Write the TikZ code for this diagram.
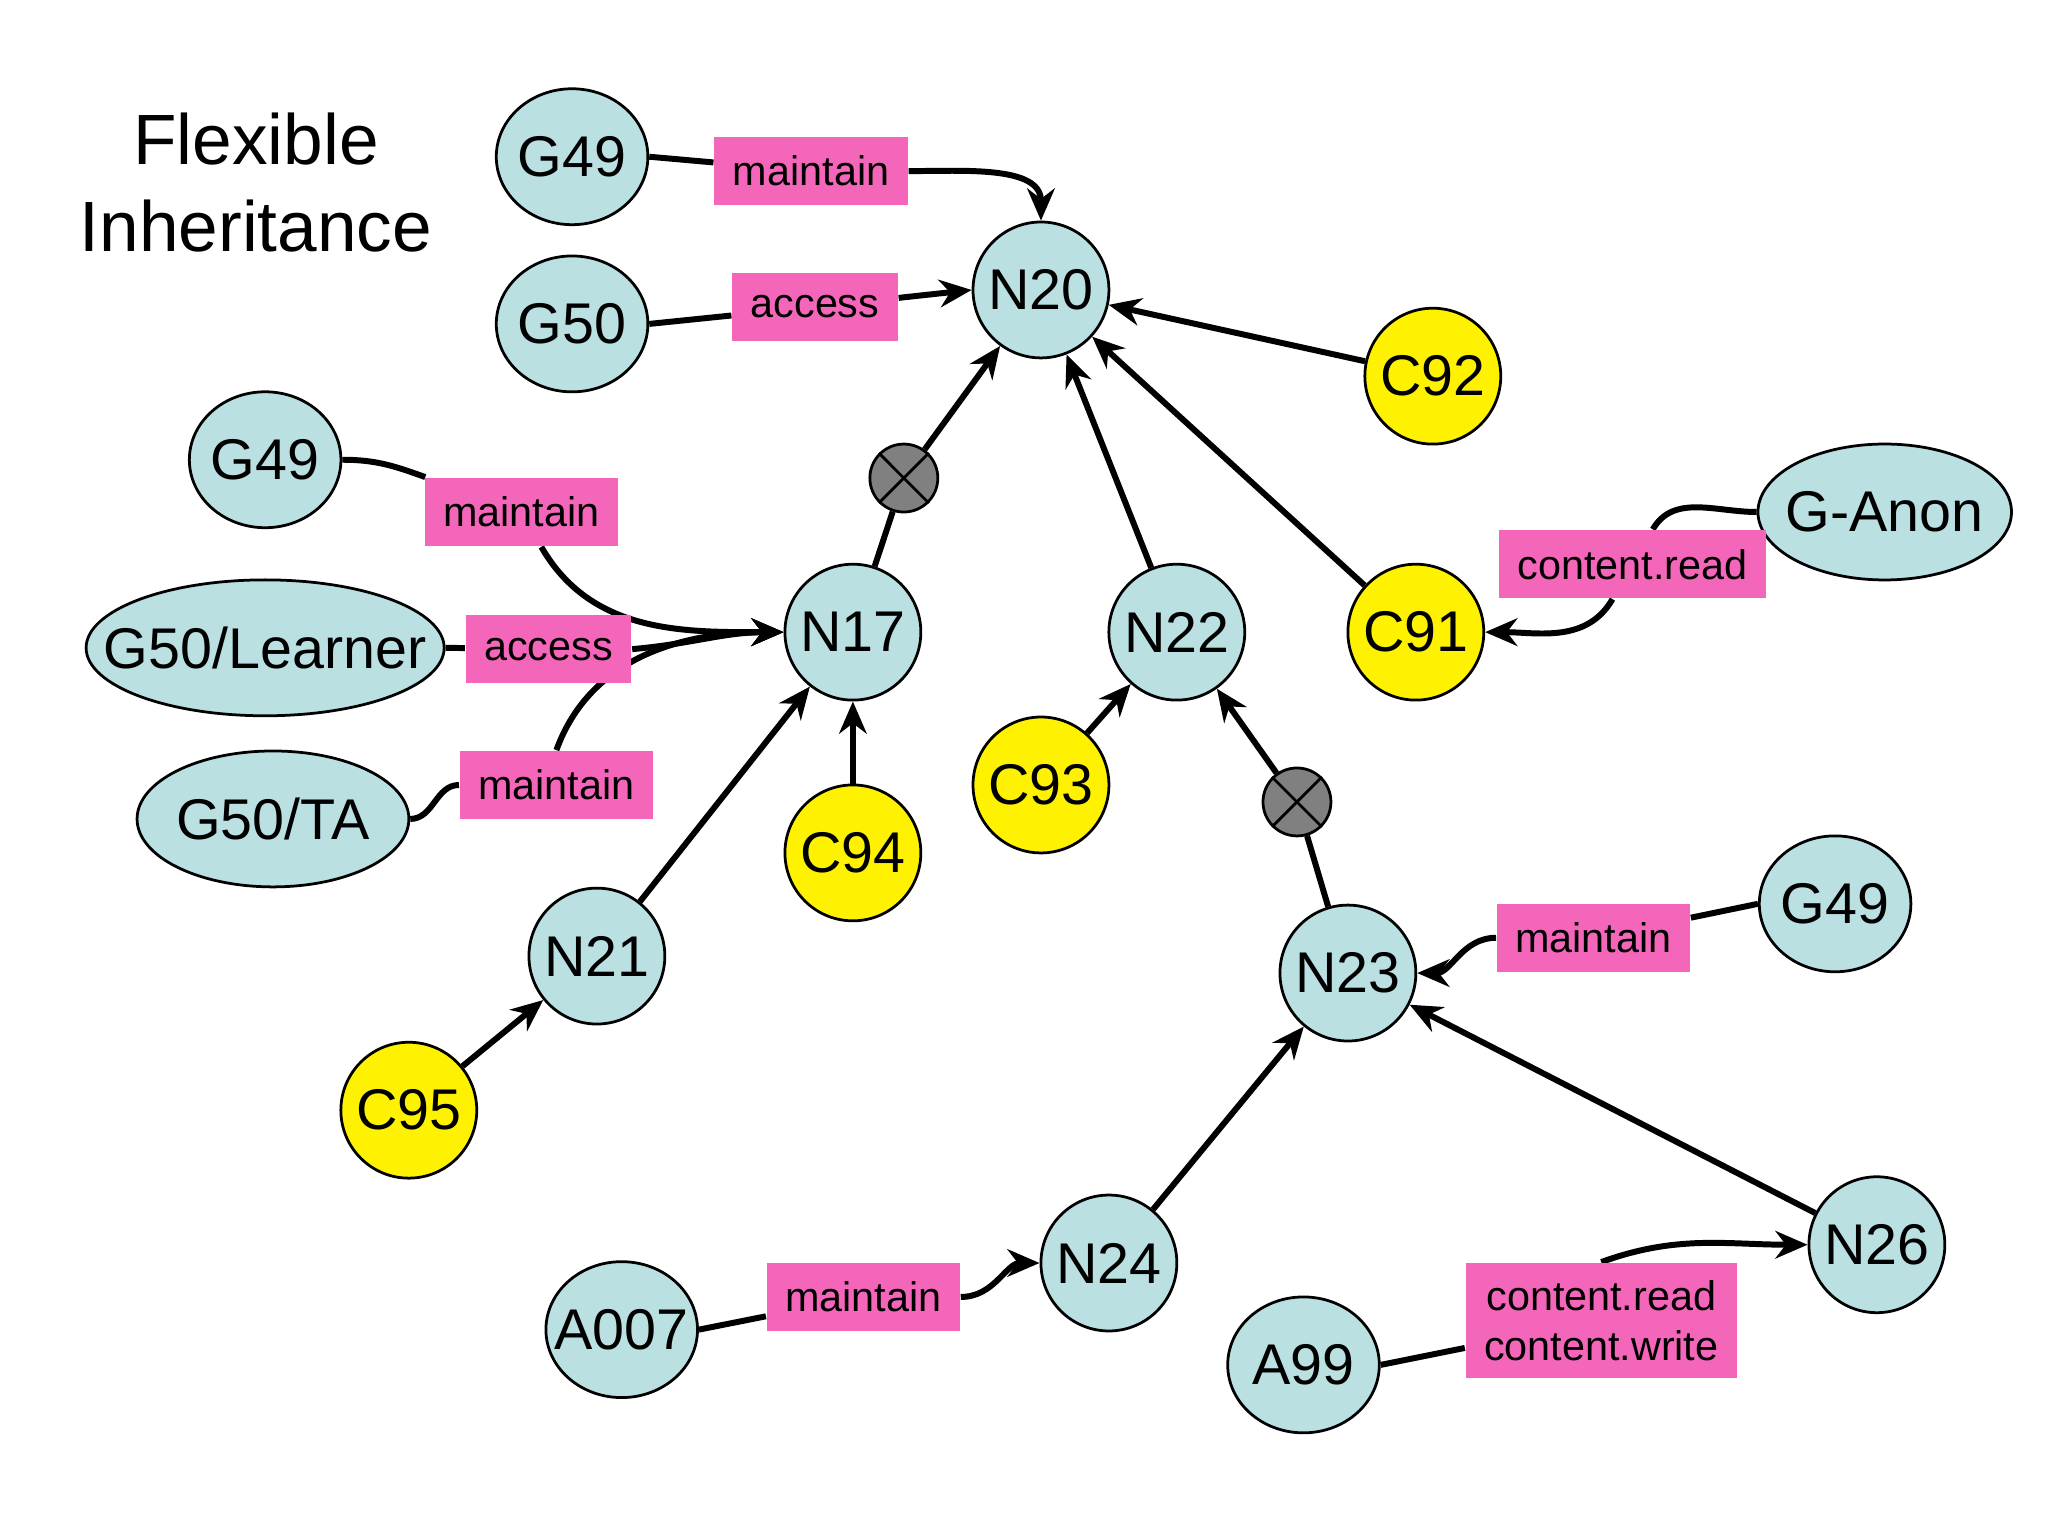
\documentclass[tikz,border=0pt]{standalone}
\usepackage{fontspec}
\setmainfont{Liberation Sans}
\usetikzlibrary{arrows.meta,backgrounds,shapes.geometric}
\definecolor{nodeblue}{RGB}{186,224,226}
\begin{document}
\begin{tikzpicture}[x=0.01cm,y=-0.01cm,
  nd/.style={draw=black,line width=0.6pt,fill=nodeblue,font=\fontsize{12.5}{15}\selectfont,inner sep=0pt},
  cir/.style={nd,circle,minimum size=1.04cm},
  ell/.style={nd,ellipse,minimum height=1.04cm,inner xsep=-9pt,inner ysep=-3pt},
  yc/.style={cir,fill=yellow},
  lb/.style={fill=magenta!60,font=\fontsize{9}{11}\selectfont,minimum height=0.52cm,inner xsep=4pt,align=center},
  xc/.style={circle,draw=black,fill=gray,minimum size=0.52cm,inner sep=0pt,line width=0.6pt},
  ed/.style={line width=1.3pt},
  ar/.style={ed,-{Stealth[length=7pt,width=6pt]}}]
\useasboundingbox (0,0) rectangle (1568,1176);
\node[align=center,font=\fontsize{15.5}{19}\selectfont] (title) at (196,140) {Flexible\\Inheritance};
\node[ell,minimum width=1.16cm] (G49a) at (438,120) {G49};
\node[ell,minimum width=1.16cm] (G50a) at (438,248) {G50};
\node[cir] (N20) at (797,222) {N20};
\node[yc] (C92) at (1097,288) {C92};
\node[ell,minimum width=1.16cm] (G49b) at (203,352) {G49};
\node[ell,minimum width=1.94cm] (GAnon) at (1443,392) {G-Anon};
\node[yc] (C91) at (1084,484) {C91};
\node[cir] (N17) at (653,484) {N17};
\node[cir] (N22) at (901,484) {N22};
\node[ell,minimum width=2.74cm] (GL) at (203,496) {G50/Learner};
\node[yc] (C93) at (797,601) {C93};
\node[ell,minimum width=2.08cm] (GTA) at (209,627) {G50/TA};
\node[yc] (C94) at (653,653) {C94};
\node[ell,minimum width=1.16cm] (G49c) at (1405,692) {G49};
\node[cir] (N23) at (1032,745) {N23};
\node[cir] (N21) at (457,732) {N21};
\node[yc] (C95) at (313,850) {C95};
\node[cir] (N24) at (849,967) {N24};
\node[cir] (N26) at (1437,953) {N26};
\node[ell,minimum width=1.16cm] (A007) at (476,1018) {A007};
\node[ell,minimum width=1.16cm] (A99) at (998,1045) {A99};
\node[xc] (x1) at (692,366) {};
\node[xc] (x2) at (993,614) {};
\foreach \x in {x1,x2}{\draw[line width=0.6pt] (\x.north west)--(\x.south east) (\x.north east)--(\x.south west);}
\node[lb,minimum width=1.48cm] (m1) at (621,131) {maintain};
\node[lb,minimum width=1.26cm] (m2) at (624,235) {access};
\node[lb,minimum width=1.46cm] (m3) at (399,392) {maintain};
\node[lb,minimum width=1.26cm] (m4) at (420,497) {access};
\node[lb,minimum width=1.46cm] (m5) at (426,601) {maintain};
\node[lb,minimum width=2.0cm] (m6) at (1250,432) {content.read};
\node[lb,minimum width=1.46cm] (m7) at (1220,718) {maintain};
\node[lb,minimum width=1.46cm] (m8) at (661,993) {maintain};
\node[lb,minimum width=2.04cm,minimum height=0.88cm] (m9) at (1226,1011) {content.read\\content.write};
\begin{scope}[on background layer]
\draw[ed] (G49a.east) -- (m1);
\draw[ar] (m1.east) to[out=0,in=90] (N20.north);
\draw[ed] (G50a.east) -- (m2);
\draw[ar] (m2) -- (N20.west);
\draw[ar] (C92) -- (N20);
\draw[ar] (C91) -- (N20);
\draw[ar] (N22) -- (N20);
\draw[ed] (N17) -- (x1);
\draw[ar] (x1) -- (N20);
\draw[ed] (G49b.east) to[out=0,in=160] (m3);
\draw[ar] (m3) to[out=-60,in=180] (N17.west);
\draw[ed] (GL.east) -- (m4);
\draw[ar] (m4.east) to[out=5,in=180] (N17.west);
\draw[ed] (GTA.east) to[out=0,in=180] (m5);
\draw[ar] (m5.north) to[out=70,in=180] (N17.west);
\draw[ar] (N21) -- (N17);
\draw[ar] (C94) -- (N17);
\draw[ar] (C95) -- (N21);
\draw[ar] (C93) -- (N22);
\draw[ed] (N23) -- (x2);
\draw[ar] (x2) -- (N22);
\draw[ed] (GAnon.west) to[out=180,in=60] (m6);
\draw[ar] (m6) to[out=-120,in=0] (C91.east);
\draw[ed] (G49c.west) -- (m7);
\draw[ar] (m7.west) to[out=180,in=0] (N23.east);
\draw[ar] (N24) -- (N23);
\draw[ar] (N26) -- (N23);
\draw[ed] (A007.east) -- (m8);
\draw[ar] (m8.east) to[out=0,in=180] (N24.west);
\draw[ed] (A99.east) -- (m9);
\draw[ar] (m9.north) to[out=20,in=180] (N26.west);
\end{scope}
\end{tikzpicture}
\end{document}
